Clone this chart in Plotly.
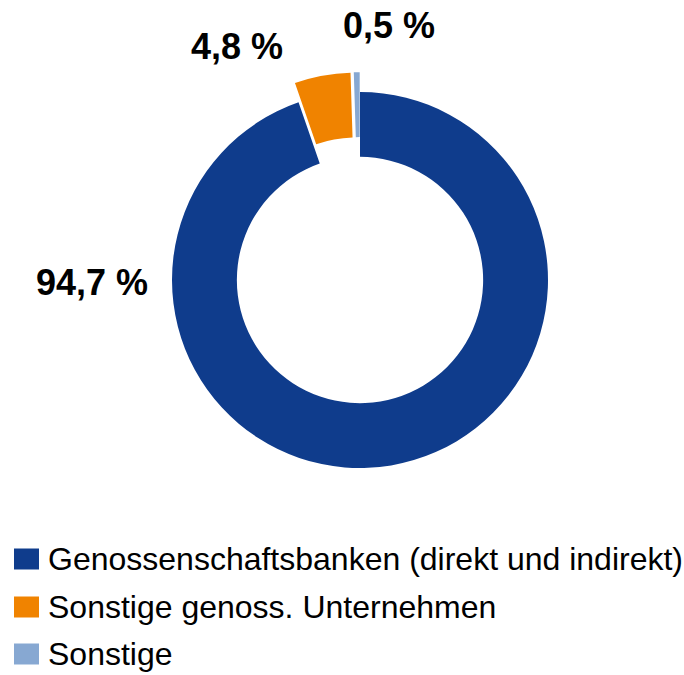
import plotly.graph_objects as go

W, H = 684, 675

categories = ["Genossenschaftsbanken (direkt und indirekt)",
              "Sonstige genoss. Unternehmen",
              "Sonstige"]
values = [94.7, 4.8, 0.5]
value_labels = ["94,7 %", "4,8 %", "0,5 %"]
colors = ["#0F3C8C", "#F08300", "#87A8D2"]
pulls = [0, 0.105, 0.105]

# geometry (pixels)
cx, cy, r = 360, 280, 188
half = r * (1 + max(pulls))
dom_x = [(cx - half) / W, (cx + half) / W]
dom_y = [1 - (cy + half) / H, 1 - (cy - half) / H]

fig = go.Figure(go.Pie(
    labels=categories,
    values=values,
    marker=dict(colors=colors, line=dict(width=0)),
    hole=0.655,
    pull=pulls,
    sort=False,
    direction="clockwise",
    rotation=0,
    textinfo="none",
    hoverinfo="label+percent",
    showlegend=False,
    domain=dict(x=dom_x, y=dom_y),
))

label_pos = [(92, 282), (237, 46), (389, 26)]
annotations = []
for txt, (px, py) in zip(value_labels, label_pos):
    annotations.append(dict(
        text=txt, x=px / W, y=1 - py / H, xref="paper", yref="paper",
        xanchor="center", yanchor="middle", showarrow=False,
        font=dict(family="Liberation Sans, Arial", size=36, color="#000000",
                  weight="bold"),
    ))

shapes = []
leg_y = [559, 607, 654]
for name, col, ly in zip(categories, colors, leg_y):
    shapes.append(dict(
        type="rect", xref="paper", yref="paper",
        x0=14 / W, x1=39 / W, y0=1 - (ly + 10.5) / H, y1=1 - (ly - 10.5) / H,
        fillcolor=col, line=dict(width=0),
    ))
    annotations.append(dict(
        text=name, x=46 / W, y=1 - ly / H, xref="paper", yref="paper",
        xanchor="left", yanchor="middle", showarrow=False,
        font=dict(family="Liberation Sans, Arial", size=32, color="#000000"),
    ))

fig.update_layout(
    width=W, height=H,
    margin=dict(l=0, r=0, t=0, b=0),
    paper_bgcolor="white", plot_bgcolor="white",
    annotations=annotations, shapes=shapes,
)

fig.write_html("out.html",
               config={"displayModeBar": False},
               post_script="document.body.style.margin='0px';document.body.style.overflow='hidden';")
